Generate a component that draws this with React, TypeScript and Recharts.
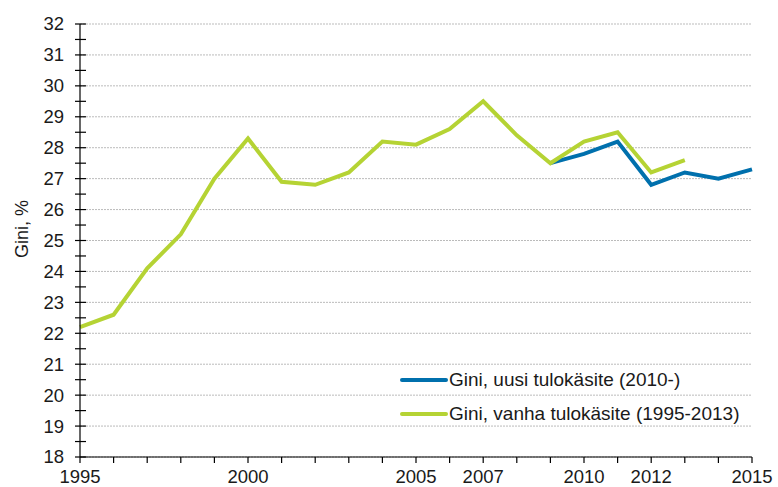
import { LineChart, Line, XAxis, YAxis, CartesianGrid, Legend } from "recharts";

const years = [
  1995, 1996, 1997, 1998, 1999, 2000, 2001, 2002, 2003, 2004, 2005, 2006,
  2007, 2008, 2009, 2010, 2011, 2012, 2013, 2014, 2015,
];
const giniOld = [
  22.2, 22.6, 24.1, 25.2, 27.0, 28.3, 26.9, 26.8, 27.2, 28.2, 28.1, 28.6,
  29.5, 28.4, 27.5, 28.2, 28.5, 27.2, 27.6, null, null,
];
const giniNew = [
  null, null, null, null, null, null, null, null, null, null, null, null,
  null, null, 27.5, 27.8, 28.2, 26.8, 27.2, 27.0, 27.3,
];
const xLabels = [1995, 2000, 2005, 2007, 2010, 2012, 2015];
const yTicks = Array.from({ length: 29 }, (_, i) => 18 + i * 0.5);
const yGrid = Array.from({ length: 15 }, (_, i) => 18 + i);

const data = years.map((year, i) => ({
  year,
  newGini: giniNew[i],
  oldGini: giniOld[i],
}));

const FONT = "Arial, 'Liberation Sans', sans-serif";
const BLUE = "#0070ad";
const GREEN = "#b5d334";
const TEXT = "#1a1a1a";

const YTick = (props: any) => {
  const { x, y, payload } = props;
  const isMajor = Number.isInteger(payload.value);
  return (
    <g>
      <line x1={x - 5} x2={x + 6} y1={y} y2={y} stroke="#000" strokeWidth={1.2} />
      {isMajor && (
        <text
          x={x - 16}
          y={y}
          dy="0.35em"
          textAnchor="end"
          fontSize={18.5}
          fontFamily={FONT}
          fill={TEXT}
        >
          {payload.value}
        </text>
      )}
    </g>
  );
};

const LegendBox = (props: any) => {
  const { payload } = props;
  return (
    <div style={{ fontFamily: FONT, fontSize: 19, color: TEXT }}>
      {(payload || []).map((entry: any) => (
        <div
          key={entry.value}
          style={{ display: "flex", alignItems: "center", height: 34 }}
        >
          <svg width={48} height={6} style={{ marginRight: 1 }}>
            <line x1={2} x2={46} y1={3} y2={3} stroke={entry.color} strokeWidth={4} strokeLinecap="round" />
          </svg>
          <span>{entry.value}</span>
        </div>
      ))}
    </div>
  );
};

export default function App() {
  return (
    <div style={{ position: "absolute", left: 0, top: 0, background: "#fff" }}>
      <LineChart
        width={778}
        height={487}
        data={data}
        margin={{ top: 24, right: 26, bottom: 0, left: 0 }}
      >
        <CartesianGrid
          horizontal
          vertical={false}
          stroke="#bbb"
          strokeDasharray="2 1"
          horizontalValues={yGrid}
        />
        <XAxis
          dataKey="year"
          type="number"
          domain={[1995, 2015]}
          ticks={years}
          interval={0}
          height={30}
          stroke="#000"
          strokeWidth={1.2}
          tickSize={6}
          tickMargin={7}
          tick={{ fontSize: 18.5, fontFamily: FONT, fill: TEXT }}
          tickFormatter={(v: number) => (xLabels.includes(v) ? String(v) : "")}
        />
        <YAxis
          type="number"
          domain={[18, 32]}
          ticks={yTicks}
          interval={0}
          width={80}
          stroke="#000"
          strokeWidth={1.2}
          tickLine={false}
          tickSize={0}
          tickMargin={0}
          tick={<YTick />}
          label={{
            content: () => (
              <text
                x={28}
                y={229}
                transform="rotate(-90 28 229)"
                textAnchor="middle"
                fontSize={18}
                fontFamily={FONT}
                fill={TEXT}
              >
                Gini, %
              </text>
            ),
          }}
        />
        <Legend
          layout="vertical"
          verticalAlign="middle"
          align="center"
          content={<LegendBox />}
          wrapperStyle={{ left: 400, top: 363, width: 370, height: 68 }}
        />
        <Line
          dataKey="newGini"
          name="Gini, uusi tulokäsite (2010-)"
          stroke={BLUE}
          strokeWidth={4}
          dot={false}
          isAnimationActive={false}
        />
        <Line
          dataKey="oldGini"
          name="Gini, vanha tulokäsite (1995-2013)"
          stroke={GREEN}
          strokeWidth={4}
          dot={false}
          isAnimationActive={false}
        />
      </LineChart>
    </div>
  );
}
